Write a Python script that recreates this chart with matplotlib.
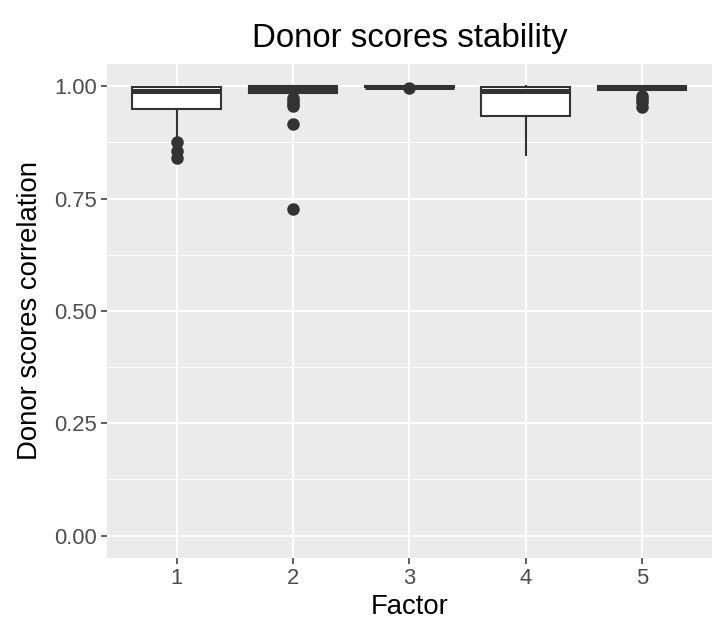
import numpy as np
import matplotlib
matplotlib.use("Agg")
import matplotlib.pyplot as plt
from matplotlib.ticker import MultipleLocator

plt.rcParams['font.family'] = ['Liberation Sans', 'DejaVu Sans']

# box statistics
factores = ["1", "2", "3", "4", "5"]
medianas = [0.990, 0.993, 0.999, 0.990, 0.996]
q1 = [0.950, 0.986, 0.998, 0.933, 0.991]
q3 = [0.998, 1.000, 1.000, 0.998, 1.000]
bigote_inf = [0.880, 0.978, 0.997, 0.846, 0.988]
bigote_sup = [0.999, 1.000, 1.000, 1.000, 1.000]
atipicos = [
    [0.876, 0.856, 0.840],
    [0.974, 0.967, 0.960, 0.956, 0.917, 0.726],
    [0.997],
    [],
    [0.978, 0.971, 0.964, 0.953],
]

gris_oscuro = "#333333"

stats = []
for i in range(len(factores)):
    stats.append(dict(med=medianas[i], q1=q1[i], q3=q3[i],
                      whislo=bigote_inf[i], whishi=bigote_sup[i],
                      fliers=atipicos[i], label=factores[i]))

fig = plt.figure(figsize=(7.27, 6.25), dpi=100)
ax = fig.add_axes([0.147, 0.107, 0.832, 0.791])
ax.set_facecolor("#EBEBEB")

posiciones = np.arange(1, len(factores) + 1)
ax.bxp(stats, positions=posiciones, widths=0.76, patch_artist=True,
       showcaps=False,
       boxprops=dict(facecolor="white", edgecolor=gris_oscuro, linewidth=1.5),
       medianprops=dict(color=gris_oscuro, linewidth=3.6, solid_capstyle="butt"),
       whiskerprops=dict(color=gris_oscuro, linewidth=1.5),
       flierprops=dict(marker="o", markerfacecolor=gris_oscuro,
                       markeredgecolor=gris_oscuro, markersize=8),
       zorder=3)

ax.set_xlim(0.4, 5.6)
ax.set_ylim(-0.05, 1.05)
ax.yaxis.set_minor_locator(MultipleLocator(0.125))
ax.set_yticks([0, 0.25, 0.5, 0.75, 1.0])
ax.set_yticklabels(["0.00", "0.25", "0.50", "0.75", "1.00"])
ax.set_xticks(posiciones)
ax.set_xticklabels(factores)

ax.grid(which="major", color="white", linewidth=1.5, zorder=0)
ax.grid(which="minor", axis="y", color="white", linewidth=0.75, zorder=0)
ax.set_axisbelow(True)
for s in ax.spines.values():
    s.set_visible(False)

ax.tick_params(axis="both", which="major", length=4, width=1.1,
               color=gris_oscuro, labelcolor="#4D4D4D", labelsize=15.8, pad=3)
ax.tick_params(axis="y", which="minor", length=0)

ax.set_xlabel("Factor", fontsize=19.8, color="black", labelpad=4)
ax.set_ylabel("Donor scores correlation", fontsize=19.8, color="black", labelpad=8)
ax.set_title("Donor scores stability", fontsize=23.8, color="black", pad=12)

fig.savefig("out.png", dpi=100)
